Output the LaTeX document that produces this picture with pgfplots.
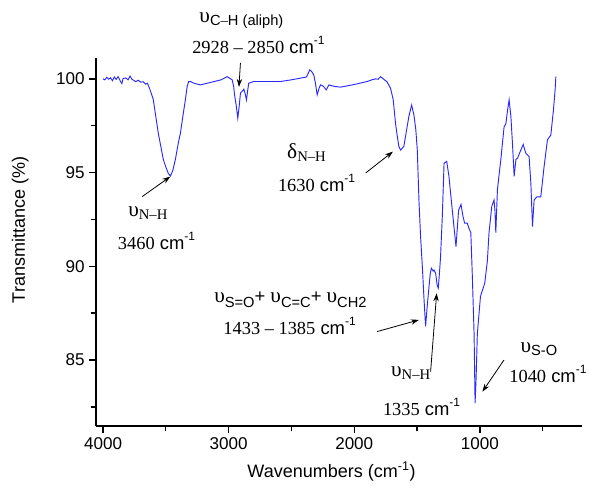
\documentclass[border=0pt]{standalone}
\usepackage{pgfplots}
\pgfplotsset{compat=1.18}
\usepackage{fontspec}
\setmainfont{Liberation Sans}
\newfontfamily\tms{Liberation Serif}
\usetikzlibrary{arrows.meta}
\newcommand{\sub}[1]{\raisebox{-0.45ex}{\fontsize{11}{12}\selectfont #1}}
\newcommand{\wn}[1]{{\tms #1} cm\raisebox{0.9ex}{\fontsize{9}{10}\selectfont -1}}
\newcommand{\ups}{{\tms\fontsize{16}{17}\selectfont υ}}
\begin{document}
\begin{tikzpicture}
\useasboundingbox (-72pt,-49.5pt) rectangle (370.5pt,319.5pt);
\begin{axis}[
  scale only axis, width=364.3pt, height=275.8pt,
  x dir=reverse, xmin=189, xmax=4056, ymin=81.48, ymax=101.1,
  axis x line*=bottom, axis y line*=left,
  axis line style={line width=1pt},
  tick align=outside, major tick length=5pt, minor tick length=4pt,
  every tick/.style={black, line width=1pt},
  xtick={1000,2000,3000,4000}, minor xtick={500,1500,2500,3500},
  ytick={85,90,95,100}, minor ytick={82.5,87.5,92.5,97.5},
  /pgf/number format/assume math mode=true,
  /pgf/number format/1000 sep={},
  tick label style={font=\fontsize{12.8}{15}\selectfont},
  xlabel={Wavenumbers (cm\textsuperscript{-1})},
  ylabel={Transmittance (\%)},
  label style={font=\fontsize{13.5}{16}\selectfont},
  xlabel style={at={(axis description cs:0.485,0)}, anchor=center, yshift=-34.5pt},
  ylabel style={at={(axis description cs:-0.156,0.533)}, anchor=center},
  clip=false,
]
\addplot[color={rgb,255:red,40;green,40;blue,255}, line width=0.7pt] coordinates {
(4000,100.0)(3985,99.95)(3970,100.08)(3955,99.98)(3940,100.06)(3925,99.9)(3910,100.1)(3895,99.97)(3880,100.12)(3865,99.92)(3850,99.75)(3840,100.02)(3820,100.05)(3800,99.95)(3785,100.15)(3770,99.98)(3755,99.92)(3740,99.85)(3720,99.93)(3700,99.82)(3680,99.85)(3660,99.72)(3647,99.77)(3630,99.5)(3620,99.3)(3600,98.9)(3580,98.0)(3560,97.1)(3540,96.4)(3520,95.7)(3500,95.3)(3480,94.95)(3463,94.82)(3445,95.1)(3424,95.7)(3400,96.6)(3384,97.1)(3360,98.2)(3344,98.9)(3330,99.6)(3318,99.86)(3300,99.85)(3278,99.77)(3250,99.72)(3225,99.68)(3180,99.75)(3120,99.85)(3060,99.95)(3012,100.12)(2972,99.95)(2960,99.6)(2953,99.15)(2940,98.6)(2927,97.9)(2915,98.6)(2906,99.24)(2890,99.35)(2879,99.45)(2868,99.2)(2858,98.88)(2848,99.4)(2840,99.77)(2800,99.86)(2700,99.86)(2587,99.86)(2500,99.95)(2427,100.04)(2380,100.1)(2354,100.48)(2340,100.4)(2322,100.21)(2310,99.8)(2295,99.15)(2280,99.5)(2268,99.68)(2245,99.6)(2223,99.41)(2202,99.68)(2160,99.6)(2109,99.56)(2000,99.7)(1897,99.86)(1860,99.95)(1830,100.0)(1810,99.98)(1790,100.12)(1760,99.95)(1740,99.85)(1711,99.5)(1690,98.9)(1671,97.6)(1657,96.92)(1645,96.4)(1631,96.2)(1618,96.3)(1605,96.4)(1585,97.2)(1565,98.0)(1543,98.6)(1525,98.08)(1510,97.3)(1498,96.2)(1485,93.54)(1472,91.6)(1458,90.0)(1445,88.3)(1432,86.8)(1420,87.8)(1405,88.9)(1395,89.6)(1386,89.9)(1372,89.75)(1365,89.8)(1352,89.63)(1340,89.0)(1331,88.83)(1322,89.6)(1313,90.5)(1299,92.65)(1285,95.5)(1264,95.6)(1246,94.8)(1227,93.5)(1206,92.1)(1190,91.05)(1169,93.0)(1150,93.3)(1134,92.65)(1121,92.3)(1100,92.3)(1085,92.0)(1072,91.8)(1060,89.5)(1046,86.4)(1038,82.7)(1030,84.0)(1020,86.4)(995,88.4)(961,89.1)(940,90.3)(927,91.8)(905,93.2)(887,93.54)(880,93.0)(873,91.8)(860,94.1)(833,95.7)(807,97.45)(793,97.6)(780,98.3)(767,98.88)(753,98.0)(740,96.5)(727,94.8)(713,95.7)(700,95.77)(674,96.2)(655,96.5)(634,96.03)(608,95.85)(594,94.43)(581,92.12)(568,93.54)(547,93.7)(515,93.7)(489,95.3)(462,96.75)(435,97.0)(414,98.35)(400,99.5)(395,100.12)
};
% annotations
\node[inner sep=0pt] at (axis cs:2898,103.1) {\ups\sub{C\tms–\rmfamily H (aliph)}};
\node[inner sep=0pt,font=\fontsize{13.8}{16}\selectfont] at (axis cs:2763,101.81) {\wn{2928 – 2850}};
\draw[-{Stealth[length=6pt,width=4pt]}, line width=0.6pt] (axis cs:2906,100.85) -- (axis cs:2918,99.57);

\node[inner sep=0pt] at (axis cs:3643,92.85) {\ups\sub{\tms N–H}};
\node[inner sep=0pt,font=\fontsize{13.8}{16}\selectfont] at (axis cs:3574,91.36) {\wn{3460}};
\draw[-{Stealth[length=6pt,width=4pt]}, line width=0.6pt] (axis cs:3688,93.72) -- (axis cs:3464,94.79);

\node[inner sep=0pt] at (axis cs:2380,96.05) {{\tms\fontsize{16}{17}\selectfont δ}\sub{\tms N–H}};
\node[inner sep=0pt,font=\fontsize{13.8}{16}\selectfont] at (axis cs:2300,94.45) {\wn{1630}};
\draw[-{Stealth[length=6pt,width=4pt]}, line width=0.6pt] (axis cs:1909,94.98) -- (axis cs:1692,96.12);

\node[inner sep=0pt,font=\fontsize{13.8}{16}\selectfont] at (axis cs:2508,88.21) {\ups\sub{S=O}+ \ups\sub{C=C}+ \ups\sub{CH2}};
\node[inner sep=0pt,font=\fontsize{13.8}{16}\selectfont] at (axis cs:2515,86.82) {\wn{1433 – 1385}};
\draw[-{Stealth[length=6pt,width=4pt]}, line width=0.6pt] (axis cs:1817,86.52) -- (axis cs:1485,87.14);

\node[inner sep=0pt] at (axis cs:1551,84.31) {\ups\sub{\tms N–H}};
\node[inner sep=0pt,font=\fontsize{13.8}{16}\selectfont] at (axis cs:1464,82.5) {\wn{1335}};
\draw[-{Stealth[length=6pt,width=4pt]}, line width=0.6pt] (axis cs:1392,84.38) -- (axis cs:1344,88.56);

\node[inner sep=0pt] at (axis cs:530,85.59) {\ups\sub{S-O}};
\node[inner sep=0pt,font=\fontsize{13.8}{16}\selectfont] at (axis cs:458,84.26) {\wn{1040}};
\draw[-{Stealth[length=6pt,width=4pt]}, line width=0.6pt] (axis cs:808,85.0) -- (axis cs:980,83.31);
\end{axis}
\end{tikzpicture}
\end{document}
